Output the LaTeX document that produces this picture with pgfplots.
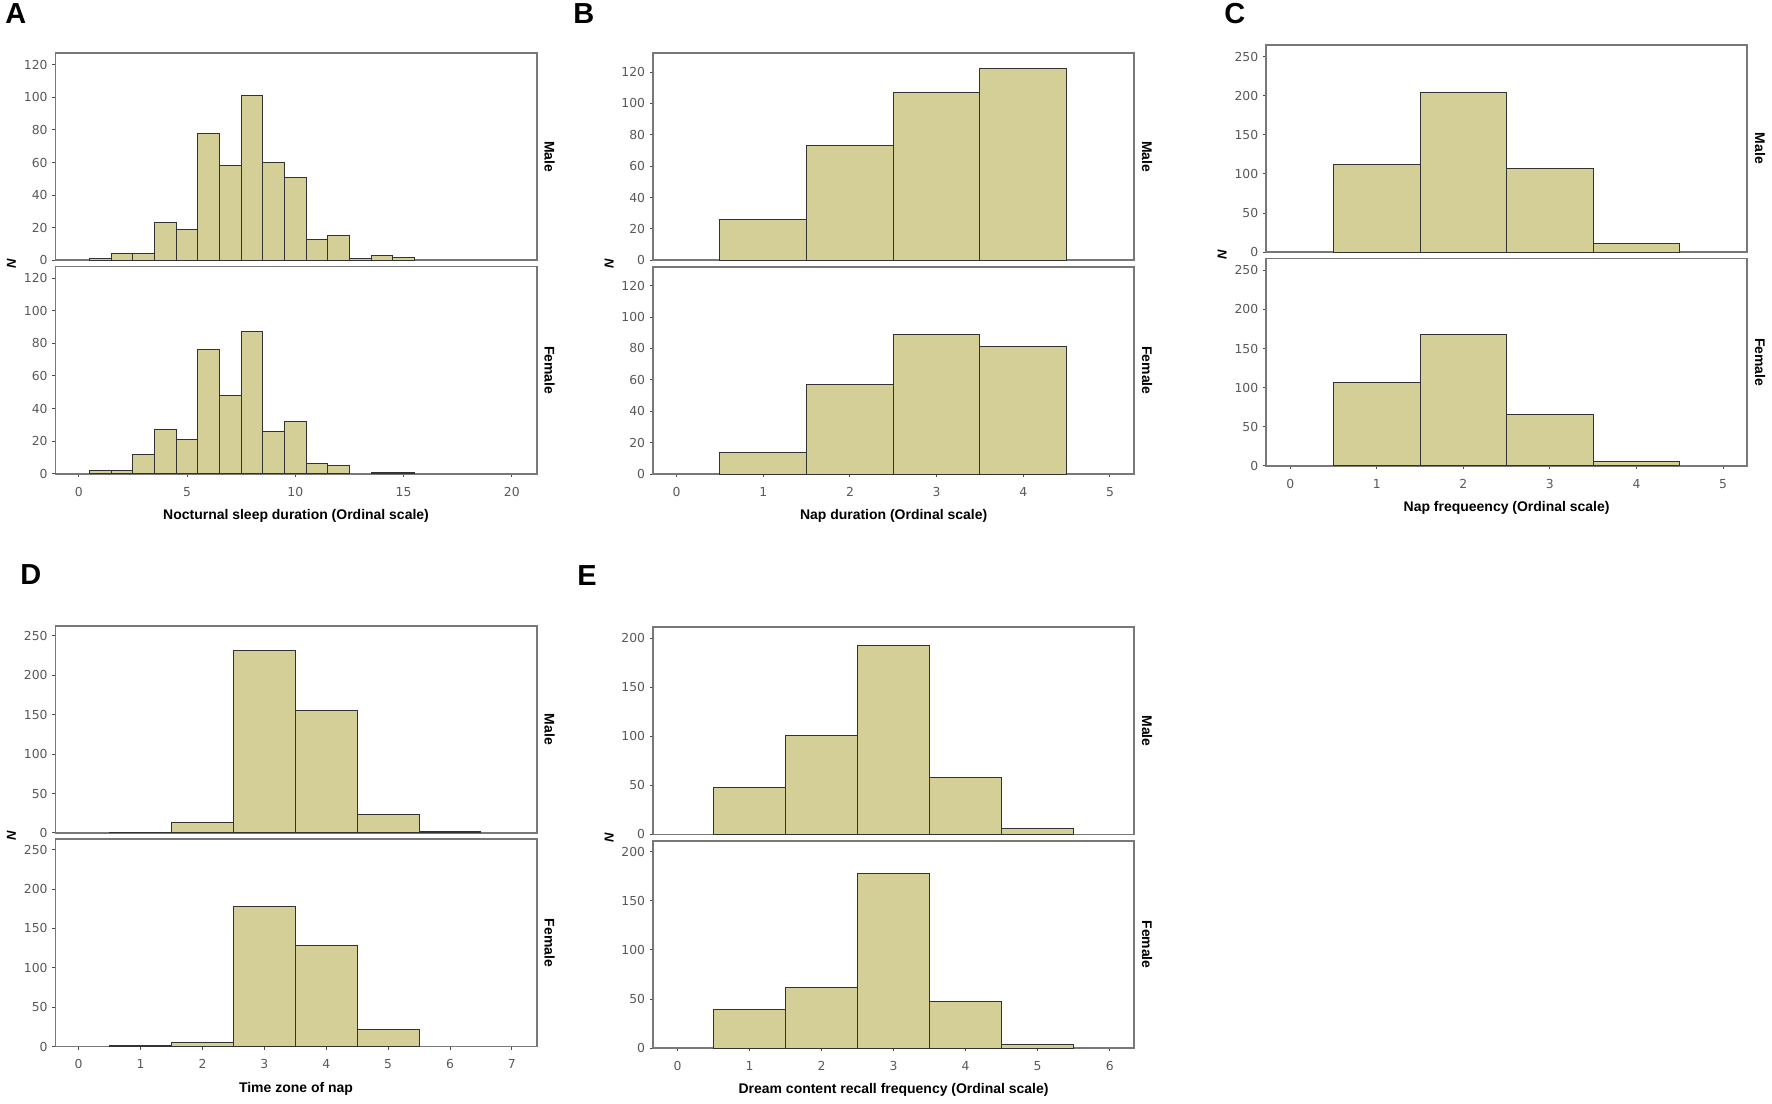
\documentclass[border=0pt]{standalone}
\usepackage{fontspec}
\setmainfont{Liberation Sans}
\newfontfamily\tickfont{DejaVu Sans}
\usepackage{pgfplots}
\pgfplotsset{compat=1.18}
\definecolor{barfill}{RGB}{212,207,151}
\definecolor{framegray}{RGB}{120,120,120}

\pgfplotsset{
  hist/.style={
    scale only axis, height=103.75pt, width=241pt,
    ymin=0,
    axis line style={draw=framegray, line width=0.9pt},
    tick align=outside, major tick length=1.6pt,
    tick style={draw=black!70, line width=0.5pt},
    ytick pos=left, xtick pos=bottom,
    ticklabel style={font=\tickfont\fontsize{6.2}{7}\selectfont, text=black!65},
    yticklabel style={xshift=1.2pt},
    xticklabel style={yshift=-1.5pt},
    /pgf/number format/assume math mode=true,
    ybar, bar width=1, bar shift=0pt,
    xlabel style={font=\bfseries\fontsize{7}{8}\selectfont,
      at={(axis description cs:0.5,0)}, anchor=center, yshift=-21pt},
  },
  male/.style={hist, xtick=\empty},
  bars/.style={fill=barfill, draw=black!80, line width=0.5pt},
}
\newcommand{\sexlabels}[2]{%
  \node[rotate=-90, font=\bfseries\fontsize{7}{8}\selectfont] at ([xshift=6.5pt]#1.east) {Male};
  \node[rotate=-90, font=\bfseries\fontsize{7}{8}\selectfont] at ([xshift=6.5pt]#2.east) {Female};
  \node[rotate=90, font=\bfseries\itshape\fontsize{6.5}{7}\selectfont] at ([xshift=-22pt,yshift=-1.5pt]#1.south west) {N};
}

\begin{document}
\begin{tikzpicture}
\path (0,0) rectangle (886pt,-552pt);

% ---------- A
\begin{axis}[male, name=am, at={(27.75pt,-26.65pt)}, anchor=north west,
  xmin=-1.08, xmax=21.15, ymax=127, ytick={0,20,...,120}]
\addplot[bars] coordinates {(1,1) (2,4) (3,4) (4,23) (5,19) (6,78) (7,58) (8,101) (9,60) (10,51) (11,13) (12,15) (13,1) (14,3) (15,2)};
\end{axis}
\begin{axis}[hist, name=af, at={(27.75pt,-133.5pt)}, anchor=north west,
  xmin=-1.08, xmax=21.15, ymax=127, ytick={0,20,...,120}, xtick={0,5,...,20},
  xlabel={Nocturnal sleep duration (Ordinal scale)}]
\addplot[bars] coordinates {(1,2) (2,2) (3,12) (4,27) (5,21) (6,76) (7,48) (8,87) (9,26) (10,32) (11,6) (12,5) (14,1) (15,1)};
\end{axis}
\sexlabels{am}{af}

% ---------- B
\begin{axis}[male, name=bm, at={(327pt,-26.65pt)}, anchor=north west,
  xmin=-0.273, xmax=5.28, ymax=132, ytick={0,20,...,120}]
\addplot[bars] coordinates {(1,26) (2,73) (3,107) (4,122)};
\end{axis}
\begin{axis}[hist, name=bf, at={(327pt,-133.65pt)}, anchor=north west,
  xmin=-0.273, xmax=5.28, ymax=132, ytick={0,20,...,120}, xtick={0,...,5},
  xlabel={Nap duration (Ordinal scale)}]
\addplot[bars] coordinates {(1,14) (2,57) (3,89) (4,81)};
\end{axis}
\sexlabels{bm}{bf}

% ---------- C
\begin{axis}[male, name=cm, at={(634pt,-22.5pt)}, anchor=north west,
  xmin=-0.28, xmax=5.28, ymax=265, ytick={0,50,...,250}]
\addplot[bars] coordinates {(1,112) (2,204) (3,107) (4,11)};
\end{axis}
\begin{axis}[hist, name=cf, at={(634pt,-129.5pt)}, anchor=north west,
  xmin=-0.28, xmax=5.28, ymax=265, ytick={0,50,...,250}, xtick={0,...,5},
  xlabel={Nap frequeency (Ordinal scale)}]
\addplot[bars] coordinates {(1,107) (2,168) (3,65) (4,6)};
\end{axis}
\sexlabels{cm}{cf}

% ---------- D
\begin{axis}[male, name=dm, at={(27.75pt,-313.35pt)}, anchor=north west,
  xmin=-0.376, xmax=7.4, ymax=263, ytick={0,50,...,250}]
\addplot[bars] coordinates {(1,1) (2,13) (3,231) (4,156) (5,23) (6,2)};
\end{axis}
\begin{axis}[hist, name=df, at={(27.75pt,-420.35pt)}, anchor=north west,
  xmin=-0.376, xmax=7.4, ymax=263, ytick={0,50,...,250}, xtick={0,...,7},
  xlabel={Time zone of nap}]
\addplot[bars] coordinates {(1,1) (2,5) (3,178) (4,128) (5,22)};
\end{axis}
\sexlabels{dm}{df}

% ---------- E
\begin{axis}[male, name=em, at={(327pt,-314.15pt)}, anchor=north west,
  xmin=-0.34, xmax=6.34, ymax=211, ytick={0,50,...,200}]
\addplot[bars] coordinates {(1,48) (2,101) (3,192) (4,58) (5,6)};
\end{axis}
\begin{axis}[hist, name=ef, at={(327pt,-421.15pt)}, anchor=north west,
  xmin=-0.34, xmax=6.34, ymax=211, ytick={0,50,...,200}, xtick={0,...,6},
  xlabel={Dream content recall frequency (Ordinal scale)}]
\addplot[bars] coordinates {(1,39) (2,62) (3,178) (4,48) (5,4)};
\end{axis}
\sexlabels{em}{ef}

% panel letters
\begin{scope}[every node/.style={anchor=north west, inner sep=0pt, font=\bfseries\fontsize{14.5}{15}\selectfont}]
\node at (2.5pt,-1.5pt) {A};
\node at (287pt,-1.5pt) {B};
\node at (613pt,-1.5pt) {C};
\node at (10pt,-282.5pt) {D};
\node at (289pt,-283pt) {E};
\end{scope}
\end{tikzpicture}
\end{document}
